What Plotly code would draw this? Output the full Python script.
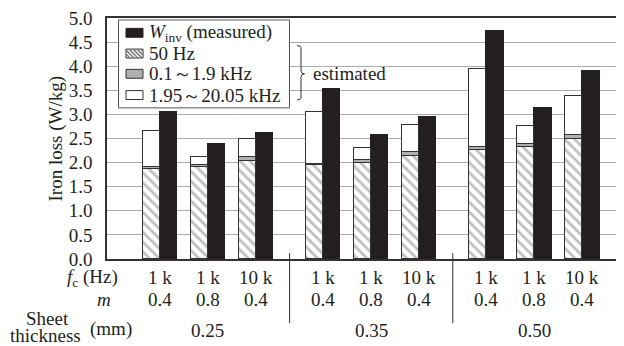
import plotly.graph_objects as go

# ---- data ----
thickness = ["0.25", "0.35", "0.50"]
fc_labels = ["1 k", "1 k", "10 k", "1 k", "1 k", "10 k", "1 k", "1 k", "10 k"]
m_labels = ["0.4", "0.8", "0.4", "0.4", "0.8", "0.4", "0.4", "0.8", "0.4"]
loss_50hz = [1.87, 1.90, 2.03, 1.94, 2.00, 2.13, 2.26, 2.32, 2.49]
loss_low = [0.04, 0.05, 0.09, 0.03, 0.05, 0.09, 0.06, 0.07, 0.08]
loss_est_total = [2.65, 2.12, 2.49, 3.04, 2.30, 2.77, 3.95, 2.75, 3.39]
loss_high = [round(t - a - b, 3) for t, a, b in zip(loss_est_total, loss_50hz, loss_low)]
measured = [3.05, 2.38, 2.61, 3.52, 2.58, 2.94, 4.73, 3.14, 3.90]
y_ticks = [0.0, 0.5, 1.0, 1.5, 2.0, 2.5, 3.0, 3.5, 4.0, 4.5, 5.0]
series_names = ["<i>W</i><sub>inv</sub> (measured)", "50 Hz", "0.1～1.9 kHz", "1.95～20.05 kHz"]

# ---- layout helpers ----
per_group = 3
group_gap = 0.4
centers = [g * (per_group + group_gap) + i for g in range(len(thickness)) for i in range(per_group)]
bw = 0.36
off = 0.18
x_est = [c - off for c in centers]
x_meas = [c + off for c in centers]

FONT = "Liberation Serif"
FS = 19
LINE = "#333333"
BLACK = "#231f20"
GRAY = "#b0b0b0"
HATCH = "#7f7f7f"

# page has an 8px body margin; plot area in page pixels: x 107..624, y 15..259
PAGE_OFF = 8
PL, PT, PW, PH = 107, 15, 517, 244

def px2p(xp, yp):
    return (xp - PL) / PW, (PT + PH - yp) / PH

fig = go.Figure()
fig.add_trace(go.Bar(
    x=x_meas, y=measured, width=bw, name=series_names[0],
    marker=dict(color=BLACK, line=dict(color=BLACK, width=1)),
))
fig.add_trace(go.Bar(
    x=x_est, y=loss_50hz, width=bw, name=series_names[1],
    marker=dict(color="white", line=dict(color=LINE, width=1),
                pattern=dict(shape="\\", fgcolor=HATCH, bgcolor="white", size=7, solidity=0.4)),
))
fig.add_trace(go.Bar(
    x=x_est, y=loss_low, width=bw, name=series_names[2],
    marker=dict(color=GRAY, line=dict(color=LINE, width=1)),
))
fig.add_trace(go.Bar(
    x=x_est, y=loss_high, width=bw, name=series_names[3],
    marker=dict(color="white", line=dict(color=LINE, width=1)),
))

annotations = []
_, y_row1 = px2p(0, 278)
_, y_row2 = px2p(0, 300)
_, y_row3 = px2p(0, 331)
for c, f, m in zip(centers, fc_labels, m_labels):
    annotations.append(dict(x=c, y=y_row1, xref="x", yref="paper", text=f, showarrow=False,
                            yanchor="middle", font=dict(size=FS)))
    annotations.append(dict(x=c, y=y_row2, xref="x", yref="paper", text=m, showarrow=False,
                            yanchor="middle", font=dict(size=FS)))
for g, t in enumerate(thickness):
    cx = centers[g * per_group + 1]
    annotations.append(dict(x=cx, y=y_row3, xref="x", yref="paper", text=t, showarrow=False,
                            yanchor="middle", font=dict(size=FS)))

def ann(xp, yp, text, xanchor="center", **kw):
    x, y = px2p(xp, yp)
    d = dict(x=x, y=y, xref="paper", yref="paper", text=text, showarrow=False,
             xanchor=xanchor, yanchor="middle", font=dict(size=FS))
    d.update(kw)
    return d

annotations += [
    ann(120, 278, "<i>f</i><sub>c</sub> (Hz)", "right"),
    ann(113, 300, "<i>m</i>", "right"),
    ann(47, 319, "Sheet"),
    ann(45, 336, "thickness"),
    ann(111, 330, "(mm)"),
    ann(311, 71, "estimated", "left"),
    ann(55, 137, "Iron loss (W/kg)", textangle=-90),
]

shapes = []
for g in range(len(thickness) - 1):
    xm = (centers[g * per_group + per_group - 1] + centers[(g + 1) * per_group]) / 2
    _, y0 = px2p(0, 253)
    _, y1 = px2p(0, 324)
    shapes.append(dict(type="line", xref="x", yref="paper", x0=xm, x1=xm, y0=y0, y1=y1,
                       line=dict(color=LINE, width=1)))

# brace
pts = [(297, 43), (301, 45), (301, 68), (304.5, 71.5), (301, 75), (301, 96), (297, 98)]
pp = [px2p(*p) for p in pts]
path = (f"M{pp[0][0]},{pp[0][1]} Q{pp[1][0]},{pp[0][1]} {pp[1][0]},{pp[1][1]} "
        f"L{pp[2][0]},{pp[2][1]} Q{pp[2][0]},{pp[3][1]} {pp[3][0]},{pp[3][1]} "
        f"Q{pp[4][0]},{pp[3][1]} {pp[4][0]},{pp[4][1]} "
        f"L{pp[5][0]},{pp[5][1]} Q{pp[5][0]},{pp[6][1]} {pp[6][0]},{pp[6][1]}")
shapes.append(dict(type="path", xref="paper", yref="paper", path=path,
                   line=dict(color=LINE, width=1)))

# ---- custom legend (drawn to match the reference's compact layout) ----
def rect_px(x0, y0, x1, y1, fill, lc=LINE, lw=1):
    a = px2p(x0, y0)
    b = px2p(x1, y1)
    return dict(type="rect", xref="paper", yref="paper", x0=a[0], y0=b[1], x1=b[0], y1=a[1],
                fillcolor=fill, line=dict(color=lc, width=lw), layer="above")

shapes.append(rect_px(118.5, 17, 289.5, 106, "white", "#555555", 1))
sym_x0, sym_x1 = 126, 143
row_y = [30, 51, 71.5, 93]
fills = [BLACK, "white", GRAY, "white"]
for i, (yc, fill) in enumerate(zip(row_y, fills)):
    y0, y1 = yc - 4.5, yc + 4.5
    shapes.append(rect_px(sym_x0, y0, sym_x1, y1, fill, BLACK if i == 0 else LINE, 1))
    if i == 1:
        k = sym_x0 - y1
        while k < sym_x1 - y0:
            xs = max(sym_x0, y0 + k)
            xe = min(sym_x1, y1 + k)
            if xe - xs > 0.5:
                a = px2p(xs, xs - k)
                b = px2p(xe, xe - k)
                shapes.append(dict(type="line", xref="paper", yref="paper", x0=a[0], y0=a[1],
                                   x1=b[0], y1=b[1], line=dict(color=HATCH, width=1.6),
                                   layer="above"))
            k += 4
    annotations.append(ann(147, yc, series_names[i], "left"))

fig.update_layout(
    width=624 - PAGE_OFF, height=346 - PAGE_OFF,
    margin=dict(l=PL - PAGE_OFF, r=0, t=PT - PAGE_OFF, b=346 - PT - PH),
    paper_bgcolor="white", plot_bgcolor="white",
    barmode="stack", bargap=0,
    font=dict(family=FONT, size=FS, color=BLACK),
    showlegend=False,
    xaxis=dict(range=[-1.104, 9.667], showticklabels=False, ticks="", showgrid=False,
               zeroline=False, showline=True, linecolor=LINE, linewidth=1.5, mirror=True),
    yaxis=dict(range=[0, 5], tickvals=y_ticks, tickformat=".1f", showgrid=True,
               gridcolor="#ababab", gridwidth=1, zeroline=False, showline=True,
               linecolor=LINE, linewidth=1.5, ticks="", ticklabelstandoff=9,
               ticklabeloverflow="allow", tickfont=dict(size=FS)),
    annotations=annotations, shapes=shapes,
)

fig.write_html("out.html")
